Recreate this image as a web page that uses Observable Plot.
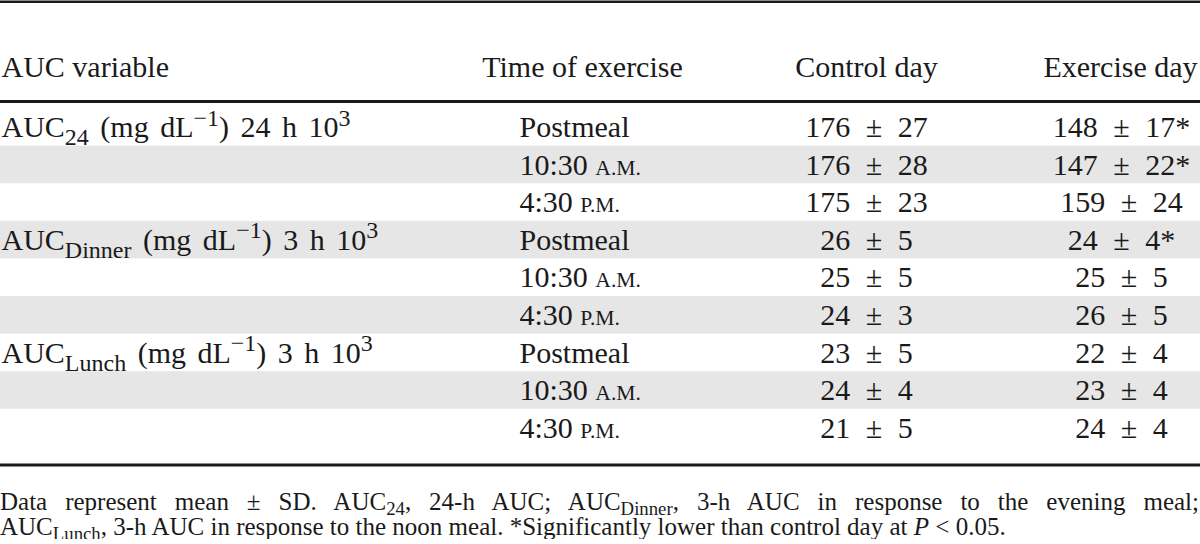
<!DOCTYPE html>
<html>
<head>
<meta charset="utf-8">
<script src="https://cdn.jsdelivr.net/npm/d3@7"></script>
<script src="https://cdn.jsdelivr.net/npm/@observablehq/plot@0.6"></script>
<style>
  html, body { margin: 0; padding: 0; background: #fff; }
  #chart { width: 1200px; }
  .foot { font-family: "Liberation Serif", serif; font-size: 25px; line-height: 25px; color: #1a1a1a; width: 1199px; margin-top: 19px; }
  .foot .l1 { text-align: justify; text-align-last: justify; }
  .foot sub { font-size: 0.75em; vertical-align: -0.25em; line-height: 0; }
</style>
</head>
<body>
<div id="chart"></div>
<script>
// ---- data ----
const headers = ["AUC variable", "Time of exercise", "Control day", "Exercise day"];
const aucVars = ["AUC_{24} (mg dL^{−1}) 24 h 10^{3}", "AUC_{Dinner} (mg dL^{−1}) 3 h 10^{3}", "AUC_{Lunch} (mg dL^{−1}) 3 h 10^{3}"];
const times = ["Postmeal", "10:30 A.M.", "4:30 P.M."];
const controlMean = [176, 176, 175, 26, 25, 24, 23, 24, 21];
const controlSD   = [27, 28, 23, 5, 5, 3, 5, 4, 5];
const exerciseMean = [148, 147, 159, 24, 25, 26, 22, 23, 24];
const exerciseSD   = [17, 22, 24, 4, 5, 5, 4, 4, 4];
const significant  = [true, true, false, true, false, false, false, false, false];
const notes = [
  "Data represent mean ± SD. AUC_{24}, 24-h AUC; AUC_{Dinner}, 3-h AUC in response to the evening meal;",
  "AUC_{Lunch}, 3-h AUC in response to the noon meal. *Significantly lower than control day at <i>P</i> &lt; 0.05."
];

// ---- table rows built from the arrays ----
const rows = controlMean.map((m, i) => ({
  i,
  variable: i % 3 === 0 ? aucVars[i / 3] : "",
  time: times[i % 3],
  control: `${m} ± ${controlSD[i]}`,
  exercise: `${exerciseMean[i]} ± ${exerciseSD[i]}${significant[i] ? "*" : ""}`
}));

// ---- layout ----
const W = 1200, H = 470;
const ROW_TOP = 108, ROW_H = 37.6;
const rowY = i => ROW_TOP + ROW_H * (i + 0.5);
const HEAD_Y = 67;
const headX = [1, 582, 866, 1120];
const COL = {variable: 1, time: 519, control: 866, exercise: 1121};
const FS = 30;
const ink = "#1a1a1a";

const plot = Plot.plot({
  width: W, height: H,
  marginTop: 0, marginRight: 0, marginBottom: 0, marginLeft: 0,
  x: {type: "identity"},
  y: {type: "identity"},
  style: {fontFamily: "'Liberation Serif', serif", fontSize: "30px", background: "#fff", color: ink},
  marks: [
    Plot.rect(rows.filter(d => d.i % 2 === 1), {
      x1: () => 0, x2: () => W,
      y1: d => ROW_TOP + ROW_H * d.i, y2: d => ROW_TOP + ROW_H * (d.i + 1),
      fill: "#e6e6e6"
    }),
    Plot.ruleY([1.25], {stroke: ink, strokeWidth: 2.5}),
    Plot.ruleY([101], {stroke: ink, strokeWidth: 3}),
    Plot.ruleY([464.5], {stroke: ink, strokeWidth: 3}),
    Plot.text(headers.slice(0, 1), {x: () => headX[0], y: () => HEAD_Y, text: d => d, textAnchor: "start", fontSize: FS, fill: ink}),
    Plot.text(headers.slice(1), {x: (d, i) => headX[i + 1], y: () => HEAD_Y, text: d => d, textAnchor: "middle", fontSize: FS, fill: ink}),
    Plot.text(rows.filter(d => d.variable), {x: () => COL.variable, y: d => rowY(d.i), text: "variable", textAnchor: "start", fontSize: FS, fill: ink}),
    Plot.text(rows, {x: () => COL.time, y: d => rowY(d.i), text: "time", textAnchor: "start", fontSize: FS, fill: ink}),
    Plot.text(rows, {x: () => COL.control, y: d => rowY(d.i), text: "control", textAnchor: "middle", fontSize: FS, fill: ink}),
    Plot.text(rows, {x: () => COL.exercise, y: d => rowY(d.i), text: "exercise", textAnchor: "middle", fontSize: FS, fill: ink})
  ]
});

// ---- rich text: subscripts, superscripts and small caps ----
function richify(el, fs) {
  const s = el.textContent;
  if (!/[_^]\{|A\.M\.|P\.M\./.test(s)) return;
  const parts = s.split(/(_\{[^}]*\}|\^\{[^}]*\}|A\.M\.|P\.M\.)/).filter(p => p !== "");
  el.textContent = "";
  let cur = 0;
  for (const p of parts) {
    let txt = p, target = 0, size = null;
    if (p.startsWith("_{")) { txt = p.slice(2, -1); target = 0.28 * fs; size = 0.8 * fs; }
    else if (p.startsWith("^{")) { txt = p.slice(2, -1); target = -0.38 * fs; size = 0.8 * fs; }
    else if (p === "A.M." || p === "P.M.") { size = 0.72 * fs; }
    const t = document.createElementNS("http://www.w3.org/2000/svg", "tspan");
    if (target !== cur) t.setAttribute("dy", (target - cur).toFixed(2));
    if (size) t.setAttribute("font-size", size.toFixed(1));
    t.textContent = txt;
    el.appendChild(t);
    cur = target;
  }
}
plot.querySelectorAll("text").forEach(el => {
  const s = el.textContent;
  if (s.includes("±")) el.style.wordSpacing = "8px";
  if (s.startsWith("AUC_")) el.style.wordSpacing = "4px";
  richify(el, FS);
});

document.getElementById("chart").appendChild(plot);

// ---- footnote ----
const toHTML = s => s.replace(/_\{([^}]*)\}/g, "<sub>$1</sub>");
const foot = document.createElement("div");
foot.className = "foot";
foot.innerHTML = `<div class="l1">${toHTML(notes[0])}</div><div>${toHTML(notes[1])}</div>`;
document.body.appendChild(foot);
</script>
</body>
</html>
